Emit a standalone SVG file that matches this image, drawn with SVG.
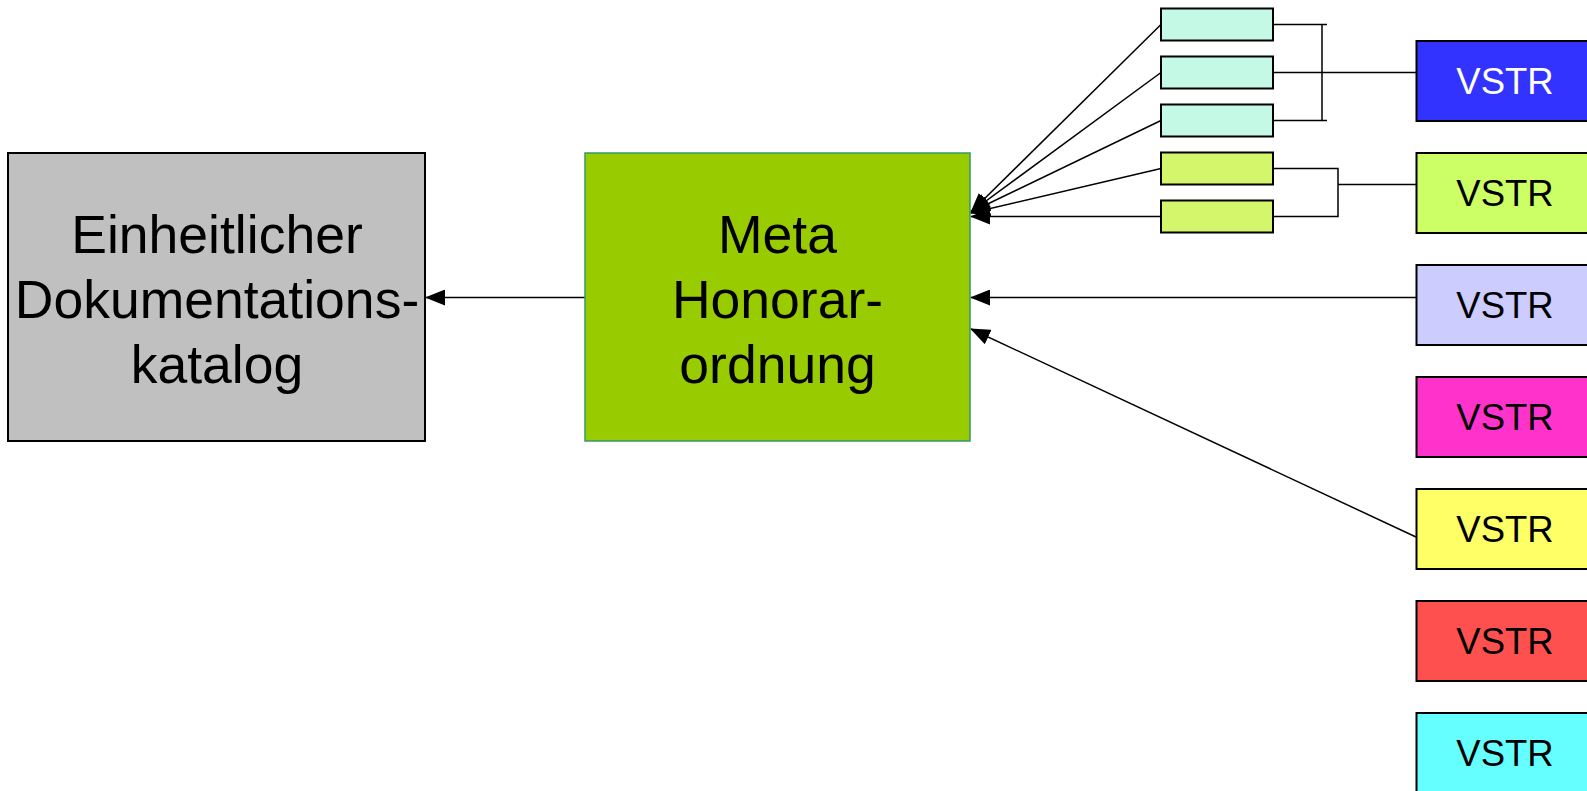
<svg xmlns="http://www.w3.org/2000/svg" width="1587" height="791" viewBox="0 0 1587 791">
  <style>
    .box { stroke: #000; stroke-width: 2; }
    .big { font-family: "Liberation Sans", Arial, sans-serif; font-size: 53.5px; fill: #000; text-anchor: middle; }
    .lbl { font-family: "Liberation Sans", Arial, sans-serif; font-size: 36.5px; fill: #000; text-anchor: middle; }
    .con { stroke: #000; stroke-width: 1.5; fill: none; }
    .mint { fill: #C4F9E6; }
    .lime { fill: #D4F66A; }
  </style>
  <defs>
    <marker id="arrow" markerUnits="userSpaceOnUse" markerWidth="20" markerHeight="16" refX="19" refY="8" orient="auto">
      <path d="M0,0 L20,8 L0,16 Z" fill="#000"/>
    </marker>
  </defs>
  <rect width="1587" height="791" fill="#fff"/>

  <!-- connectors -->
  <g id="connectors">
    <line class="con" x1="585" y1="297.5" x2="426" y2="297.5" marker-end="url(#arrow)"/>
    <line class="con" x1="1416" y1="297.5" x2="971" y2="297.5" marker-end="url(#arrow)"/>
    <line class="con" x1="1416" y1="537" x2="971" y2="329" marker-end="url(#arrow)"/>
    <line class="con" x1="1161" y1="24.5" x2="971" y2="212" marker-end="url(#arrow)"/>
    <line class="con" x1="1161" y1="72.5" x2="971" y2="212" marker-end="url(#arrow)"/>
    <line class="con" x1="1161" y1="120.5" x2="971" y2="212" marker-end="url(#arrow)"/>
    <line class="con" x1="1161" y1="168.5" x2="971" y2="213" marker-end="url(#arrow)"/>
    <line class="con" x1="1161" y1="216.5" x2="971" y2="216.5" marker-end="url(#arrow)"/>
    <!-- bracket joining the three mint items -->
    <path class="con" d="M1273,24.5 H1327 M1273,120.5 H1327 M1322,24.5 V120.5 M1273,72.5 H1416"/>
    <!-- bracket joining the two lime items -->
    <path class="con" d="M1273,168.5 H1338 V216.5 H1273 M1338,184.5 H1416"/>
  </g>

  <g id="katalog">
    <rect class="box" x="8" y="153" width="417" height="288" fill="#C0C0C0" stroke-width="1.5"/>
    <text class="big" x="217" y="253">Einheitlicher</text>
    <text class="big" x="217" y="318">Dokumentations-</text>
    <text class="big" x="217" y="383">katalog</text>
  </g>

  <g id="meta">
    <rect x="585" y="153" width="385" height="288" fill="#99CC00" stroke="#339966" stroke-width="1.5"/>
    <text class="big" x="777.5" y="253">Meta</text>
    <text class="big" x="777.5" y="318">Honorar-</text>
    <text class="big" x="777.5" y="383">ordnung</text>
  </g>

  <g id="item1"><rect class="box mint" x="1161" y="8.5" width="112" height="32"/></g>
  <g id="item2"><rect class="box mint" x="1161" y="56.5" width="112" height="32"/></g>
  <g id="item3"><rect class="box mint" x="1161" y="104.5" width="112" height="32"/></g>
  <g id="item4"><rect class="box lime" x="1161" y="152.5" width="112" height="32"/></g>
  <g id="item5"><rect class="box lime" x="1161" y="200.5" width="112" height="32"/></g>

  <g id="vstr1">
    <rect class="box" x="1416.5" y="41" width="200" height="80" fill="#3333FF"/>
    <text class="lbl" x="1505" y="94" style="fill:#fff">VSTR</text>
  </g>
  <g id="vstr2">
    <rect class="box" x="1416.5" y="153" width="200" height="80" fill="#CCFF66"/>
    <text class="lbl" x="1505" y="206">VSTR</text>
  </g>
  <g id="vstr3">
    <rect class="box" x="1416.5" y="265" width="200" height="80" fill="#CCCCFF"/>
    <text class="lbl" x="1505" y="318">VSTR</text>
  </g>
  <g id="vstr4">
    <rect class="box" x="1416.5" y="377" width="200" height="80" fill="#FF33CC"/>
    <text class="lbl" x="1505" y="430">VSTR</text>
  </g>
  <g id="vstr5">
    <rect class="box" x="1416.5" y="489" width="200" height="80" fill="#FFFF66"/>
    <text class="lbl" x="1505" y="542">VSTR</text>
  </g>
  <g id="vstr6">
    <rect class="box" x="1416.5" y="601" width="200" height="80" fill="#FF5050"/>
    <text class="lbl" x="1505" y="654">VSTR</text>
  </g>
  <g id="vstr7">
    <rect class="box" x="1416.5" y="713" width="200" height="100" fill="#66FFFF"/>
    <text class="lbl" x="1505" y="766">VSTR</text>
  </g>
</svg>
